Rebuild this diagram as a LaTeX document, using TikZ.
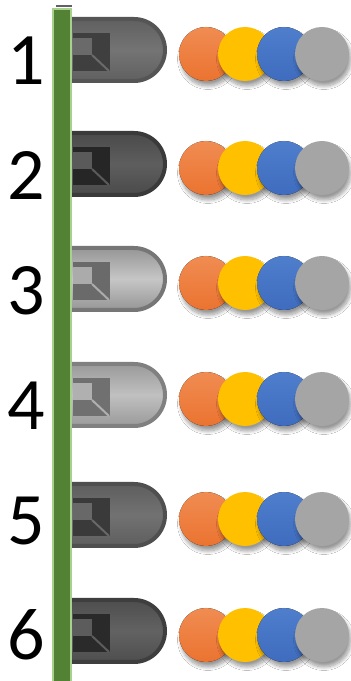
\documentclass[tikz,border=0pt]{standalone}
\usepackage{fontspec}
\setmainfont{Carlito}
\usetikzlibrary{shadows.blur}

\definecolor{barGreen}{HTML}{548235}
\definecolor{barEdge}{HTML}{A9D18E}
\definecolor{cOrange}{HTML}{EB7330}
\definecolor{cOrangeHi}{HTML}{F08C52}
\definecolor{cYellow}{HTML}{FFC000}
\definecolor{cBlue}{HTML}{3F6CBE}
\definecolor{cBlueHi}{HTML}{4F7ECD}
\definecolor{cGray}{HTML}{A5A5A5}

\tikzset{
  digit/.style={anchor=base, inner sep=0pt, font=\fontsize{74}{74}\selectfont},
  dot/.style={blur shadow={shadow xshift=2pt, shadow yshift=-5pt,
      shadow opacity=40, shadow blur radius=3.5pt, shadow blur steps=14}},
}

\begin{document}
\begin{tikzpicture}[x=1pt,y=1pt]
\useasboundingbox (0,0) rectangle (351,681);
\fill[white] (0,0) rectangle (351,681);

% small dark stub above the rail
\fill[black!62] (56,674) rectangle (72,676);

% six LED bodies with their colour dots
\foreach \cy/\bd/\sd/\md/\sq/\lt [count=\i] in {
    631/555555/606060/747474/3f3f3f/6a6a6a,
    517/3a3a3a/4a4a4a/5e5e5e/262626/5a5a5a,
    402/767676/969696/C6C6C6/6a6a6a/ABABAB,
    286/808080/9a9a9a/C0C0C0/707070/B0B0B0,
    166/4f4f4f/5e5e5e/727272/3a3a3a/686868,
     50/3e3e3e/4e4e4e/626262/2a2a2a/5c5c5c} {
  \definecolor{ledBorder}{HTML}{\bd}
  \definecolor{ledSide}{HTML}{\sd}
  \definecolor{ledMid}{HTML}{\md}
  \definecolor{ledSquare}{HTML}{\sq}
  \definecolor{ledLight}{HTML}{\lt}
  \draw[line width=4pt, draw=ledBorder, top color=ledSide, bottom color=ledSide,
        middle color=ledMid]
    (64,\cy+31) -- (134,\cy+31) arc[start angle=90, end angle=-90, radius=31]
    -- (64,\cy-31) -- cycle;
  \fill[ledSquare] (73,\cy-21) rectangle (110,\cy+17);
  \fill[ledLight] (73,\cy-5) rectangle (92,\cy+12);
  \draw[ledLight, line width=2pt] (92,\cy-5) -- (109,\cy-21);
  % colour dots, each overlapping the one on its left
  \fill[dot, top color=cOrangeHi, bottom color=cOrange] (206,\cy-4) circle[radius=27];
  \fill[dot, cYellow] (245,\cy-4) circle[radius=27];
  \fill[dot, top color=cBlueHi, bottom color=cBlue] (284,\cy-4) circle[radius=27];
  \fill[dot, cGray] (322,\cy-4) circle[radius=27];
}

% vertical green rail
\draw[fill=barGreen, draw=barEdge, line width=2pt] (53,-5) rectangle (71,672);

% row numbers
\foreach \b [count=\i] in {596,481,366,251,136,21}
  \node[digit] (n\i) at (26,\b) {\i};
\end{tikzpicture}
\end{document}
